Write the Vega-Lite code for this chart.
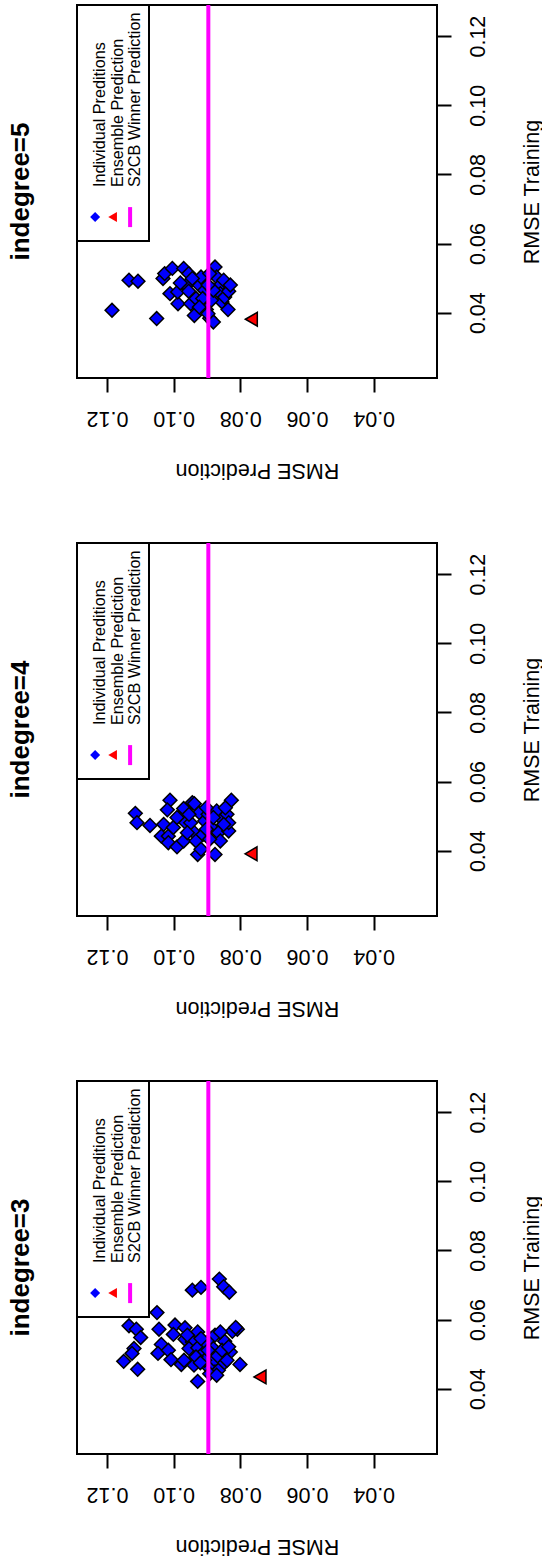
{
  "$schema": "https://vega.github.io/schema/vega-lite/v6.json",
  "padding": {"left": 6, "top": 2, "right": 5, "bottom": 5},
  "background": "white",
  "data": {"values": [
    {"p": "indegree=5", "t": "Individual Preditions", "pred": 0.1185, "train": 0.0407},
    {"p": "indegree=5", "t": "Individual Preditions", "pred": 0.1134, "train": 0.0494},
    {"p": "indegree=5", "t": "Individual Preditions", "pred": 0.1107, "train": 0.0491},
    {"p": "indegree=5", "t": "Individual Preditions", "pred": 0.1051, "train": 0.0383},
    {"p": "indegree=5", "t": "Individual Preditions", "pred": 0.1032, "train": 0.0499},
    {"p": "indegree=5", "t": "Individual Preditions", "pred": 0.1027, "train": 0.0513},
    {"p": "indegree=5", "t": "Individual Preditions", "pred": 0.1004, "train": 0.0528},
    {"p": "indegree=5", "t": "Individual Preditions", "pred": 0.1011, "train": 0.0455},
    {"p": "indegree=5", "t": "Individual Preditions", "pred": 0.0987, "train": 0.0426},
    {"p": "indegree=5", "t": "Individual Preditions", "pred": 0.0988, "train": 0.0460},
    {"p": "indegree=5", "t": "Individual Preditions", "pred": 0.0970, "train": 0.0528},
    {"p": "indegree=5", "t": "Individual Preditions", "pred": 0.0955, "train": 0.0513},
    {"p": "indegree=5", "t": "Individual Preditions", "pred": 0.0962, "train": 0.0479},
    {"p": "indegree=5", "t": "Individual Preditions", "pred": 0.0949, "train": 0.0426},
    {"p": "indegree=5", "t": "Individual Preditions", "pred": 0.0938, "train": 0.0392},
    {"p": "indegree=5", "t": "Individual Preditions", "pred": 0.0923, "train": 0.0479},
    {"p": "indegree=5", "t": "Individual Preditions", "pred": 0.0933, "train": 0.0441},
    {"p": "indegree=5", "t": "Individual Preditions", "pred": 0.0918, "train": 0.0503},
    {"p": "indegree=5", "t": "Individual Preditions", "pred": 0.0907, "train": 0.0465},
    {"p": "indegree=5", "t": "Individual Preditions", "pred": 0.0902, "train": 0.0409},
    {"p": "indegree=5", "t": "Individual Preditions", "pred": 0.0892, "train": 0.0384},
    {"p": "indegree=5", "t": "Individual Preditions", "pred": 0.0881, "train": 0.0373},
    {"p": "indegree=5", "t": "Individual Preditions", "pred": 0.0876, "train": 0.0532},
    {"p": "indegree=5", "t": "Individual Preditions", "pred": 0.0871, "train": 0.0503},
    {"p": "indegree=5", "t": "Individual Preditions", "pred": 0.0866, "train": 0.0474},
    {"p": "indegree=5", "t": "Individual Preditions", "pred": 0.0860, "train": 0.0455},
    {"p": "indegree=5", "t": "Individual Preditions", "pred": 0.0855, "train": 0.0431},
    {"p": "indegree=5", "t": "Individual Preditions", "pred": 0.0847, "train": 0.0445},
    {"p": "indegree=5", "t": "Individual Preditions", "pred": 0.0837, "train": 0.0409},
    {"p": "indegree=5", "t": "Individual Preditions", "pred": 0.0835, "train": 0.0462},
    {"p": "indegree=5", "t": "Individual Preditions", "pred": 0.0850, "train": 0.0494},
    {"p": "indegree=5", "t": "Individual Preditions", "pred": 0.0887, "train": 0.0436},
    {"p": "indegree=5", "t": "Individual Preditions", "pred": 0.0897, "train": 0.0397},
    {"p": "indegree=5", "t": "Individual Preditions", "pred": 0.0892, "train": 0.0513},
    {"p": "indegree=5", "t": "Individual Preditions", "pred": 0.0980, "train": 0.0486},
    {"p": "indegree=5", "t": "Individual Preditions", "pred": 0.0955, "train": 0.0462},
    {"p": "indegree=5", "t": "Individual Preditions", "pred": 0.0913, "train": 0.0441},
    {"p": "indegree=5", "t": "Individual Preditions", "pred": 0.0944, "train": 0.0499},
    {"p": "indegree=5", "t": "Individual Preditions", "pred": 0.0881, "train": 0.0465},
    {"p": "indegree=5", "t": "Individual Preditions", "pred": 0.0830, "train": 0.0480},
    {"p": "indegree=5", "t": "Individual Preditions", "pred": 0.0923, "train": 0.0416},
    {"p": "indegree=5", "t": "Individual Preditions", "pred": 0.0897, "train": 0.0480},
    {"p": "indegree=5", "t": "Ensemble Prediction", "pred": 0.0767, "train": 0.0381},
    {"p": "indegree=5", "t": "S2CB Winner Prediction", "pred": 0.0896},

    {"p": "indegree=4", "t": "Individual Preditions", "pred": 0.1156, "train": 0.0708},
    {"p": "indegree=4", "t": "Individual Preditions", "pred": 0.1115, "train": 0.0508},
    {"p": "indegree=4", "t": "Individual Preditions", "pred": 0.1110, "train": 0.0481},
    {"p": "indegree=4", "t": "Individual Preditions", "pred": 0.1071, "train": 0.0473},
    {"p": "indegree=4", "t": "Individual Preditions", "pred": 0.1011, "train": 0.0546},
    {"p": "indegree=4", "t": "Individual Preditions", "pred": 0.1019, "train": 0.0518},
    {"p": "indegree=4", "t": "Individual Preditions", "pred": 0.1030, "train": 0.0476},
    {"p": "indegree=4", "t": "Individual Preditions", "pred": 0.1037, "train": 0.0442},
    {"p": "indegree=4", "t": "Individual Preditions", "pred": 0.1016, "train": 0.0442},
    {"p": "indegree=4", "t": "Individual Preditions", "pred": 0.1016, "train": 0.0423},
    {"p": "indegree=4", "t": "Individual Preditions", "pred": 0.0990, "train": 0.0411},
    {"p": "indegree=4", "t": "Individual Preditions", "pred": 0.1001, "train": 0.0467},
    {"p": "indegree=4", "t": "Individual Preditions", "pred": 0.0980, "train": 0.0500},
    {"p": "indegree=4", "t": "Individual Preditions", "pred": 0.0970, "train": 0.0522},
    {"p": "indegree=4", "t": "Individual Preditions", "pred": 0.0964, "train": 0.0481},
    {"p": "indegree=4", "t": "Individual Preditions", "pred": 0.0970, "train": 0.0428},
    {"p": "indegree=4", "t": "Individual Preditions", "pred": 0.0944, "train": 0.0539},
    {"p": "indegree=4", "t": "Individual Preditions", "pred": 0.0938, "train": 0.0452},
    {"p": "indegree=4", "t": "Individual Preditions", "pred": 0.0933, "train": 0.0428},
    {"p": "indegree=4", "t": "Individual Preditions", "pred": 0.0928, "train": 0.0389},
    {"p": "indegree=4", "t": "Individual Preditions", "pred": 0.0918, "train": 0.0404},
    {"p": "indegree=4", "t": "Individual Preditions", "pred": 0.0923, "train": 0.0510},
    {"p": "indegree=4", "t": "Individual Preditions", "pred": 0.0907, "train": 0.0486},
    {"p": "indegree=4", "t": "Individual Preditions", "pred": 0.0912, "train": 0.0447},
    {"p": "indegree=4", "t": "Individual Preditions", "pred": 0.0897, "train": 0.0505},
    {"p": "indegree=4", "t": "Individual Preditions", "pred": 0.0887, "train": 0.0467},
    {"p": "indegree=4", "t": "Individual Preditions", "pred": 0.0876, "train": 0.0389},
    {"p": "indegree=4", "t": "Individual Preditions", "pred": 0.0871, "train": 0.0515},
    {"p": "indegree=4", "t": "Individual Preditions", "pred": 0.0866, "train": 0.0452},
    {"p": "indegree=4", "t": "Individual Preditions", "pred": 0.0860, "train": 0.0428},
    {"p": "indegree=4", "t": "Individual Preditions", "pred": 0.0855, "train": 0.0491},
    {"p": "indegree=4", "t": "Individual Preditions", "pred": 0.0840, "train": 0.0505},
    {"p": "indegree=4", "t": "Individual Preditions", "pred": 0.0835, "train": 0.0457},
    {"p": "indegree=4", "t": "Individual Preditions", "pred": 0.0827, "train": 0.0546},
    {"p": "indegree=4", "t": "Individual Preditions", "pred": 0.0835, "train": 0.0481},
    {"p": "indegree=4", "t": "Individual Preditions", "pred": 0.0850, "train": 0.0476},
    {"p": "indegree=4", "t": "Individual Preditions", "pred": 0.0949, "train": 0.0481},
    {"p": "indegree=4", "t": "Individual Preditions", "pred": 0.0954, "train": 0.0505},
    {"p": "indegree=4", "t": "Individual Preditions", "pred": 0.0990, "train": 0.0496},
    {"p": "indegree=4", "t": "Individual Preditions", "pred": 0.0902, "train": 0.0524},
    {"p": "indegree=4", "t": "Individual Preditions", "pred": 0.0892, "train": 0.0433},
    {"p": "indegree=4", "t": "Individual Preditions", "pred": 0.0881, "train": 0.0496},
    {"p": "indegree=4", "t": "Individual Preditions", "pred": 0.0959, "train": 0.0452},
    {"p": "indegree=4", "t": "Individual Preditions", "pred": 0.0938, "train": 0.0536},
    {"p": "indegree=4", "t": "Individual Preditions", "pred": 0.0845, "train": 0.0524},
    {"p": "indegree=4", "t": "Individual Preditions", "pred": 0.0902, "train": 0.0462},
    {"p": "indegree=4", "t": "Ensemble Prediction", "pred": 0.0768, "train": 0.0391},
    {"p": "indegree=4", "t": "S2CB Winner Prediction", "pred": 0.0896},

    {"p": "indegree=3", "t": "Individual Preditions", "pred": 0.1144, "train": 0.0741},
    {"p": "indegree=3", "t": "Individual Preditions", "pred": 0.0944, "train": 0.0685},
    {"p": "indegree=3", "t": "Individual Preditions", "pred": 0.0918, "train": 0.0693},
    {"p": "indegree=3", "t": "Individual Preditions", "pred": 0.0863, "train": 0.0717},
    {"p": "indegree=3", "t": "Individual Preditions", "pred": 0.0850, "train": 0.0695},
    {"p": "indegree=3", "t": "Individual Preditions", "pred": 0.0833, "train": 0.0679},
    {"p": "indegree=3", "t": "Individual Preditions", "pred": 0.1050, "train": 0.0620},
    {"p": "indegree=3", "t": "Individual Preditions", "pred": 0.1134, "train": 0.0582},
    {"p": "indegree=3", "t": "Individual Preditions", "pred": 0.1112, "train": 0.0572},
    {"p": "indegree=3", "t": "Individual Preditions", "pred": 0.1099, "train": 0.0548},
    {"p": "indegree=3", "t": "Individual Preditions", "pred": 0.1044, "train": 0.0572},
    {"p": "indegree=3", "t": "Individual Preditions", "pred": 0.0996, "train": 0.0584},
    {"p": "indegree=3", "t": "Individual Preditions", "pred": 0.0966, "train": 0.0576},
    {"p": "indegree=3", "t": "Individual Preditions", "pred": 0.1001, "train": 0.0557},
    {"p": "indegree=3", "t": "Individual Preditions", "pred": 0.1119, "train": 0.0516},
    {"p": "indegree=3", "t": "Individual Preditions", "pred": 0.1125, "train": 0.0502},
    {"p": "indegree=3", "t": "Individual Preditions", "pred": 0.1150, "train": 0.0479},
    {"p": "indegree=3", "t": "Individual Preditions", "pred": 0.1108, "train": 0.0456},
    {"p": "indegree=3", "t": "Individual Preditions", "pred": 0.1037, "train": 0.0528},
    {"p": "indegree=3", "t": "Individual Preditions", "pred": 0.1047, "train": 0.0502},
    {"p": "indegree=3", "t": "Individual Preditions", "pred": 0.1016, "train": 0.0511},
    {"p": "indegree=3", "t": "Individual Preditions", "pred": 0.1008, "train": 0.0484},
    {"p": "indegree=3", "t": "Individual Preditions", "pred": 0.0977, "train": 0.0470},
    {"p": "indegree=3", "t": "Individual Preditions", "pred": 0.0969, "train": 0.0482},
    {"p": "indegree=3", "t": "Individual Preditions", "pred": 0.0966, "train": 0.0543},
    {"p": "indegree=3", "t": "Individual Preditions", "pred": 0.0944, "train": 0.0535},
    {"p": "indegree=3", "t": "Individual Preditions", "pred": 0.0928, "train": 0.0564},
    {"p": "indegree=3", "t": "Individual Preditions", "pred": 0.0939, "train": 0.0468},
    {"p": "indegree=3", "t": "Individual Preditions", "pred": 0.0928, "train": 0.0421},
    {"p": "indegree=3", "t": "Individual Preditions", "pred": 0.0809, "train": 0.0572},
    {"p": "indegree=3", "t": "Individual Preditions", "pred": 0.0801, "train": 0.0470},
    {"p": "indegree=3", "t": "Individual Preditions", "pred": 0.0830, "train": 0.0506},
    {"p": "indegree=3", "t": "Individual Preditions", "pred": 0.0850, "train": 0.0473},
    {"p": "indegree=3", "t": "Individual Preditions", "pred": 0.0847, "train": 0.0537},
    {"p": "indegree=3", "t": "Individual Preditions", "pred": 0.0954, "train": 0.0516},
    {"p": "indegree=3", "t": "Individual Preditions", "pred": 0.0928, "train": 0.0518},
    {"p": "indegree=3", "t": "Individual Preditions", "pred": 0.0912, "train": 0.0502},
    {"p": "indegree=3", "t": "Individual Preditions", "pred": 0.0902, "train": 0.0531},
    {"p": "indegree=3", "t": "Individual Preditions", "pred": 0.0887, "train": 0.0545},
    {"p": "indegree=3", "t": "Individual Preditions", "pred": 0.0876, "train": 0.0555},
    {"p": "indegree=3", "t": "Individual Preditions", "pred": 0.0881, "train": 0.0516},
    {"p": "indegree=3", "t": "Individual Preditions", "pred": 0.0871, "train": 0.0492},
    {"p": "indegree=3", "t": "Individual Preditions", "pred": 0.0887, "train": 0.0473},
    {"p": "indegree=3", "t": "Individual Preditions", "pred": 0.0876, "train": 0.0448},
    {"p": "indegree=3", "t": "Individual Preditions", "pred": 0.0897, "train": 0.0463},
    {"p": "indegree=3", "t": "Individual Preditions", "pred": 0.0907, "train": 0.0482},
    {"p": "indegree=3", "t": "Individual Preditions", "pred": 0.0855, "train": 0.0511},
    {"p": "indegree=3", "t": "Individual Preditions", "pred": 0.0840, "train": 0.0482},
    {"p": "indegree=3", "t": "Individual Preditions", "pred": 0.0824, "train": 0.0566},
    {"p": "indegree=3", "t": "Individual Preditions", "pred": 0.0866, "train": 0.0453},
    {"p": "indegree=3", "t": "Individual Preditions", "pred": 0.0918, "train": 0.0545},
    {"p": "indegree=3", "t": "Individual Preditions", "pred": 0.0933, "train": 0.0492},
    {"p": "indegree=3", "t": "Individual Preditions", "pred": 0.0892, "train": 0.0443},
    {"p": "indegree=3", "t": "Individual Preditions", "pred": 0.0860, "train": 0.0564},
    {"p": "indegree=3", "t": "Individual Preditions", "pred": 0.0920, "train": 0.0475},
    {"p": "indegree=3", "t": "Individual Preditions", "pred": 0.0897, "train": 0.0511},
    {"p": "indegree=3", "t": "Individual Preditions", "pred": 0.0835, "train": 0.0521},
    {"p": "indegree=3", "t": "Individual Preditions", "pred": 0.0959, "train": 0.0555},
    {"p": "indegree=3", "t": "Individual Preditions", "pred": 0.0871, "train": 0.0439},
    {"p": "indegree=3", "t": "Individual Preditions", "pred": 0.0814, "train": 0.0577},
    {"p": "indegree=3", "t": "Ensemble Prediction", "pred": 0.0741, "train": 0.0434},
    {"p": "indegree=3", "t": "S2CB Winner Prediction", "pred": 0.0896}
  ]},
  "vconcat": [
    {
      "width": 360, "height": 373,
      "title": {"text": "indegree=5", "orient": "left", "anchor": "middle", "baseline": "alphabetic", "fontSize": 26, "fontWeight": "bold", "font": "Liberation Sans", "color": "black", "offset": 21},
      "transform": [{"filter": "datum.p === 'indegree=5'"}],
      "layer": [
        {
          "transform": [{"filter": "datum.t !== 'S2CB Winner Prediction'"}],
          "mark": {"type": "point", "filled": true, "stroke": "black", "strokeWidth": 1.5, "size": 190, "opacity": 1},
          "encoding": {
            "x": {"field": "pred", "type": "quantitative", "scale": {"domain": [0.021, 0.129], "reverse": true, "nice": false, "zero": false},
              "axis": {"orient": "bottom", "values": [0.04, 0.06, 0.08, 0.1, 0.12], "format": ".2f", "labelAngle": 180, "labelAlign": "center", "labelBaseline": "alphabetic", "labelPadding": 19, "labelFlush": false, "labelOverlap": false, "title": "RMSE Prediction", "titleAngle": 180, "titleAlign": "center", "titleBaseline": "alphabetic", "titleX": 180, "titleY": 85}},
            "y": {"field": "train", "type": "quantitative", "scale": {"domain": [0.0211, 0.129], "nice": false, "zero": false},
              "axis": {"orient": "right", "values": [0.04, 0.06, 0.08, 0.1, 0.12], "format": ".2f", "labelAngle": 270, "labelAlign": "center", "labelBaseline": "alphabetic", "labelPadding": 33, "labelFlush": false, "labelOverlap": false, "title": "RMSE Training", "titleAngle": 270, "titleAlign": "center", "titleBaseline": "alphabetic", "titleX": 101, "titleY": 186.5}},
            "color": {"field": "t", "type": "nominal",
              "scale": {"domain": ["Individual Preditions", "Ensemble Prediction", "S2CB Winner Prediction"], "range": ["#0000FF", "#FF0000", "#FF00FF"]},
              "legend": {"title": " ", "titleFontSize": 10, "titlePadding": 189, "orient": "top-left", "offset": 0, "direction": "horizontal", "columns": 3, "gridAlign": "none", "padding": 5, "strokeColor": "black", "fillColor": "white", "labelFont": "Liberation Sans", "labelFontSize": 16.2, "labelColor": "black", "symbolSize": 100, "symbolOffset": 5, "labelOffset": -3, "columnPadding": -9.5, "labelLimit": 400,
                "encoding": {
                  "legend": {"strokeWidth": {"value": 2}},
                  "labels": {"angle": {"value": 270}, "align": {"value": "left"}, "baseline": {"value": "middle"}, "dx": {"value": 30}},
                  "symbols": {"strokeWidth": {"value": {"expr": "datum.value === 'S2CB Winner Prediction' ? 4 : 0"}}, "stroke": {"value": "#FF00FF"}, "size": {"value": {"expr": "datum.value === 'S2CB Winner Prediction' ? 400 : 100"}}}
                }}},
            "shape": {"field": "t", "type": "nominal",
              "scale": {"domain": ["Individual Preditions", "Ensemble Prediction", "S2CB Winner Prediction"], "range": ["diamond", "triangle-left", "M0,-1L0,1"]}}
          }
        },
        {
          "transform": [{"filter": "datum.t === 'S2CB Winner Prediction'"}],
          "mark": {"type": "rule", "strokeWidth": 4},
          "encoding": {
            "x": {"field": "pred", "type": "quantitative"},
            "color": {"field": "t", "type": "nominal"}
          }
        }
      ]
    },
    {
      "width": 360, "height": 373,
      "title": {"text": "indegree=4", "orient": "left", "anchor": "middle", "baseline": "alphabetic", "fontSize": 26, "fontWeight": "bold", "font": "Liberation Sans", "color": "black", "offset": 21},
      "transform": [{"filter": "datum.p === 'indegree=4'"}],
      "layer": [
        {
          "transform": [{"filter": "datum.t !== 'S2CB Winner Prediction'"}],
          "mark": {"type": "point", "filled": true, "stroke": "black", "strokeWidth": 1.5, "size": 190, "opacity": 1},
          "encoding": {
            "x": {"field": "pred", "type": "quantitative", "scale": {"domain": [0.021, 0.129], "reverse": true, "nice": false, "zero": false},
              "axis": {"orient": "bottom", "values": [0.04, 0.06, 0.08, 0.1, 0.12], "format": ".2f", "labelAngle": 180, "labelAlign": "center", "labelBaseline": "alphabetic", "labelPadding": 19, "labelFlush": false, "labelOverlap": false, "title": "RMSE Prediction", "titleAngle": 180, "titleAlign": "center", "titleBaseline": "alphabetic", "titleX": 180, "titleY": 85}},
            "y": {"field": "train", "type": "quantitative", "scale": {"domain": [0.0211, 0.129], "nice": false, "zero": false},
              "axis": {"orient": "right", "values": [0.04, 0.06, 0.08, 0.1, 0.12], "format": ".2f", "labelAngle": 270, "labelAlign": "center", "labelBaseline": "alphabetic", "labelPadding": 33, "labelFlush": false, "labelOverlap": false, "title": "RMSE Training", "titleAngle": 270, "titleAlign": "center", "titleBaseline": "alphabetic", "titleX": 101, "titleY": 186.5}},
            "color": {"field": "t", "type": "nominal",
              "scale": {"domain": ["Individual Preditions", "Ensemble Prediction", "S2CB Winner Prediction"], "range": ["#0000FF", "#FF0000", "#FF00FF"]},
              "legend": {"title": " ", "titleFontSize": 10, "titlePadding": 189, "orient": "top-left", "offset": 0, "direction": "horizontal", "columns": 3, "gridAlign": "none", "padding": 5, "strokeColor": "black", "fillColor": "white", "labelFont": "Liberation Sans", "labelFontSize": 16.2, "labelColor": "black", "symbolSize": 100, "symbolOffset": 5, "labelOffset": -3, "columnPadding": -9.5, "labelLimit": 400,
                "encoding": {
                  "legend": {"strokeWidth": {"value": 2}},
                  "labels": {"angle": {"value": 270}, "align": {"value": "left"}, "baseline": {"value": "middle"}, "dx": {"value": 30}},
                  "symbols": {"strokeWidth": {"value": {"expr": "datum.value === 'S2CB Winner Prediction' ? 4 : 0"}}, "stroke": {"value": "#FF00FF"}, "size": {"value": {"expr": "datum.value === 'S2CB Winner Prediction' ? 400 : 100"}}}
                }}},
            "shape": {"field": "t", "type": "nominal",
              "scale": {"domain": ["Individual Preditions", "Ensemble Prediction", "S2CB Winner Prediction"], "range": ["diamond", "triangle-left", "M0,-1L0,1"]}}
          }
        },
        {
          "transform": [{"filter": "datum.t === 'S2CB Winner Prediction'"}],
          "mark": {"type": "rule", "strokeWidth": 4},
          "encoding": {
            "x": {"field": "pred", "type": "quantitative"},
            "color": {"field": "t", "type": "nominal"}
          }
        }
      ]
    },
    {
      "width": 360, "height": 373,
      "title": {"text": "indegree=3", "orient": "left", "anchor": "middle", "baseline": "alphabetic", "fontSize": 26, "fontWeight": "bold", "font": "Liberation Sans", "color": "black", "offset": 21},
      "transform": [{"filter": "datum.p === 'indegree=3'"}],
      "layer": [
        {
          "transform": [{"filter": "datum.t !== 'S2CB Winner Prediction'"}],
          "mark": {"type": "point", "filled": true, "stroke": "black", "strokeWidth": 1.5, "size": 190, "opacity": 1},
          "encoding": {
            "x": {"field": "pred", "type": "quantitative", "scale": {"domain": [0.021, 0.129], "reverse": true, "nice": false, "zero": false},
              "axis": {"orient": "bottom", "values": [0.04, 0.06, 0.08, 0.1, 0.12], "format": ".2f", "labelAngle": 180, "labelAlign": "center", "labelBaseline": "alphabetic", "labelPadding": 19, "labelFlush": false, "labelOverlap": false, "title": "RMSE Prediction", "titleAngle": 180, "titleAlign": "center", "titleBaseline": "alphabetic", "titleX": 180, "titleY": 85}},
            "y": {"field": "train", "type": "quantitative", "scale": {"domain": [0.0211, 0.129], "nice": false, "zero": false},
              "axis": {"orient": "right", "values": [0.04, 0.06, 0.08, 0.1, 0.12], "format": ".2f", "labelAngle": 270, "labelAlign": "center", "labelBaseline": "alphabetic", "labelPadding": 33, "labelFlush": false, "labelOverlap": false, "title": "RMSE Training", "titleAngle": 270, "titleAlign": "center", "titleBaseline": "alphabetic", "titleX": 101, "titleY": 186.5}},
            "color": {"field": "t", "type": "nominal",
              "scale": {"domain": ["Individual Preditions", "Ensemble Prediction", "S2CB Winner Prediction"], "range": ["#0000FF", "#FF0000", "#FF00FF"]},
              "legend": {"title": " ", "titleFontSize": 10, "titlePadding": 189, "orient": "top-left", "offset": 0, "direction": "horizontal", "columns": 3, "gridAlign": "none", "padding": 5, "strokeColor": "black", "fillColor": "white", "labelFont": "Liberation Sans", "labelFontSize": 16.2, "labelColor": "black", "symbolSize": 100, "symbolOffset": 5, "labelOffset": -3, "columnPadding": -9.5, "labelLimit": 400,
                "encoding": {
                  "legend": {"strokeWidth": {"value": 2}},
                  "labels": {"angle": {"value": 270}, "align": {"value": "left"}, "baseline": {"value": "middle"}, "dx": {"value": 30}},
                  "symbols": {"strokeWidth": {"value": {"expr": "datum.value === 'S2CB Winner Prediction' ? 4 : 0"}}, "stroke": {"value": "#FF00FF"}, "size": {"value": {"expr": "datum.value === 'S2CB Winner Prediction' ? 400 : 100"}}}
                }}},
            "shape": {"field": "t", "type": "nominal",
              "scale": {"domain": ["Individual Preditions", "Ensemble Prediction", "S2CB Winner Prediction"], "range": ["diamond", "triangle-left", "M0,-1L0,1"]}}
          }
        },
        {
          "transform": [{"filter": "datum.t === 'S2CB Winner Prediction'"}],
          "mark": {"type": "rule", "strokeWidth": 4},
          "encoding": {
            "x": {"field": "pred", "type": "quantitative"},
            "color": {"field": "t", "type": "nominal"}
          }
        }
      ]
    }
  ],
  "spacing": 165,
  "bounds": "flush",
  "resolve": {"scale": {"color": "independent", "shape": "independent"}},
  "config": {
    "font": "Liberation Sans",
    "view": {"stroke": "black", "strokeWidth": 2},
    "axis": {"grid": false, "domain": false, "tickColor": "black", "tickWidth": 2, "tickSize": 14, "labelColor": "black", "labelFontSize": 21.5, "labelFont": "Liberation Sans", "titleColor": "black", "titleFontSize": 21.5, "titleFontWeight": "normal", "titleFont": "Liberation Sans"}
  }
}
